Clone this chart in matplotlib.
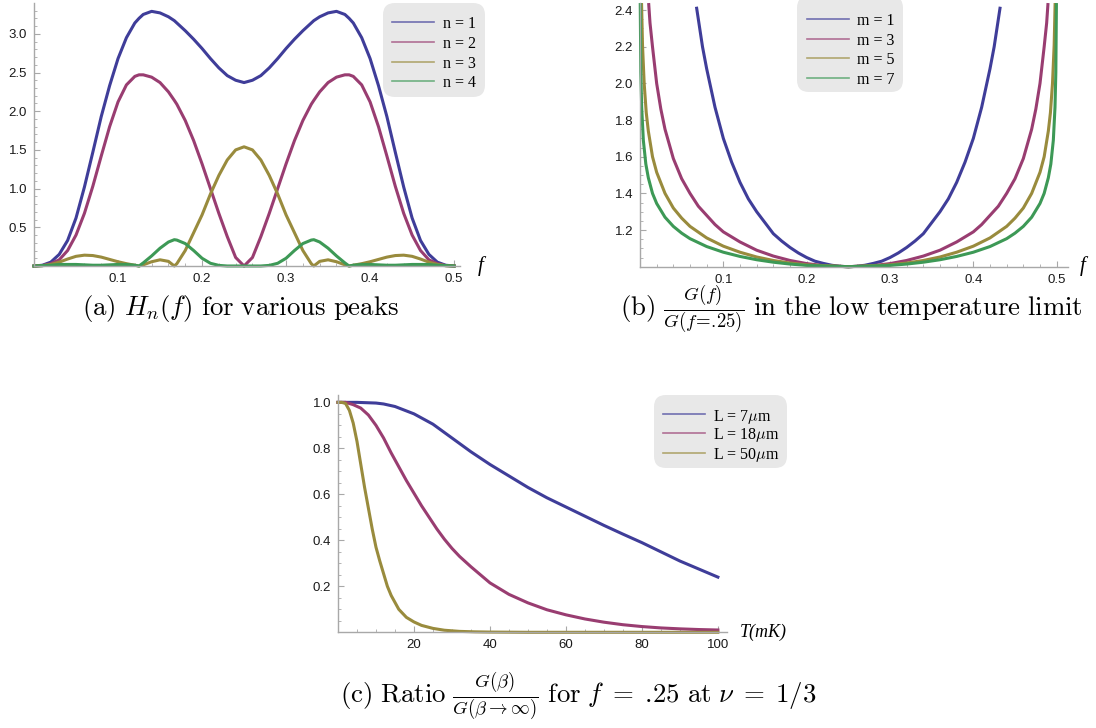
import matplotlib
matplotlib.use('Agg')
import matplotlib.pyplot as plt
from matplotlib.patches import FancyBboxPatch
from matplotlib.lines import Line2D
from matplotlib.transforms import IdentityTransform
from matplotlib.ticker import FixedLocator, MultipleLocator

plt.rcParams['font.family'] = ['Liberation Sans', 'DejaVu Sans']
plt.rcParams['mathtext.fontset'] = 'cm'

W, H = 1096, 728

# colours of the four series (Mathematica defaults)
colors = ['#3f3d99', '#993d71', '#998b3d', '#3d9956']
AXIS_GRAY = '#a8a8a8'

# ---- panel (a): H_n(f) ----
a_f = [0, .01, .02, .03, .04, .05, .06, .07, .08, .09, .10, .11, .12, .125, .13, .14,
       .15, .16, .167, .17, .18, .19, .20, .21, .22, .23, .24, .25, .26, .27, .28, .29,
       .30, .31, .32, .33, .333, .34, .35, .36, .37, .375, .38, .39, .40, .41, .42, .43,
       .44, .45, .46, .47, .48, .49, .50]
a_n1 = [0, .01, .05, .15, .33, .62, 1.02, 1.47, 1.93, 2.33, 2.68, 2.95, 3.14, 3.2, 3.25, 3.29,
        3.27, 3.22, 3.17, 3.14, 3.04, 2.93, 2.81, 2.68, 2.56, 2.46, 2.4, 2.37, 2.4, 2.46, 2.56, 2.68,
        2.81, 2.93, 3.04, 3.14, 3.17, 3.22, 3.27, 3.29, 3.25, 3.2, 3.14, 2.95, 2.68, 2.33, 1.93, 1.47,
        1.02, .62, .33, .15, .05, .01, 0]
a_n2 = [0, .005, .03, .08, .2, .4, .68, 1.03, 1.42, 1.8, 2.12, 2.34, 2.45, 2.47, 2.47, 2.44,
        2.37, 2.25, 2.14, 2.09, 1.88, 1.62, 1.32, 1.0, .68, .38, .11, 0, .11, .38, .68, 1.0,
        1.32, 1.62, 1.88, 2.09, 2.14, 2.25, 2.37, 2.44, 2.47, 2.47, 2.45, 2.34, 2.12, 1.8, 1.42, 1.03,
        .68, .4, .2, .08, .03, .005, 0]
a_n3 = [0, .005, .02, .05, .09, .125, .14, .135, .115, .085, .055, .03, .01, 0, .015, .055,
        .08, .06, 0, .03, .2, .43, .66, .93, 1.17, 1.37, 1.5, 1.54, 1.5, 1.37, 1.17, .93,
        .66, .43, .2, .03, 0, .06, .08, .055, .015, 0, .01, .03, .055, .085, .115, .135,
        .14, .125, .09, .05, .02, .005, 0]
a_n4 = [0, .005, .01, .02, .02, .02, .015, .01, .01, .015, .02, .02, .01, 0, .04, .13,
        .23, .31, .34, .335, .29, .2, .1, .035, .008, 0, 0, 0, 0, 0, .008, .035,
        .1, .2, .29, .335, .34, .31, .23, .13, .04, 0, .01, .02, .02, .015, .01, .01,
        .015, .02, .02, .02, .01, .005, 0]
a_labels = ['n = 1', 'n = 2', 'n = 3', 'n = 4']
a_xticks = [0.1, 0.2, 0.3, 0.4, 0.5]
a_xticklabels = ['0.1', '0.2', '0.3', '0.4', '0.5']
a_yticks = [0.5, 1.0, 1.5, 2.0, 2.5, 3.0]
a_yticklabels = ['0.5', '1.0', '1.5', '2.0', '2.5', '3.0']

# ---- panel (b): G(f)/G(f=.25), low temperature ----
b_f1 = [0.068, 0.07, 0.075, 0.08, 0.09, 0.10, 0.11, 0.12, 0.13, 0.14, 0.15, 0.16, 0.17, 0.18,
        0.19, 0.20, 0.21, 0.22, 0.23, 0.24, 0.25, 0.26, 0.27, 0.28, 0.29, 0.30, 0.31, 0.32,
        0.33, 0.34, 0.35, 0.36, 0.37, 0.38, 0.39, 0.40, 0.41, 0.42, 0.425, 0.43, 0.432]
b_m1 = [2.41, 2.35, 2.2, 2.08, 1.87, 1.7, 1.57, 1.46, 1.37, 1.3, 1.24, 1.18, 1.14, 1.105,
        1.075, 1.05, 1.03, 1.018, 1.008, 1.002, 1.0, 1.002, 1.008, 1.018, 1.03, 1.05, 1.075, 1.105,
        1.14, 1.18, 1.24, 1.3, 1.37, 1.46, 1.57, 1.7, 1.87, 2.08, 2.2, 2.35, 2.41]
b_f3 = [0.0105, 0.012, 0.015, 0.02, 0.025, 0.03, 0.04, 0.05, 0.06, 0.07, 0.08, 0.09, 0.10,
        0.12, 0.14, 0.16, 0.18, 0.20, 0.22, 0.25, 0.28, 0.30, 0.32, 0.34, 0.36, 0.38,
        0.40, 0.41, 0.42, 0.43, 0.44, 0.45, 0.46, 0.47, 0.475, 0.48, 0.485, 0.488, 0.4895]
b_m3 = [2.43, 2.33, 2.2, 2.0, 1.86, 1.75, 1.59, 1.48, 1.4, 1.33, 1.28, 1.23, 1.19,
        1.135, 1.09, 1.058, 1.034, 1.017, 1.006, 1.0, 1.006, 1.017, 1.034, 1.058, 1.09, 1.135,
        1.19, 1.23, 1.28, 1.33, 1.4, 1.48, 1.59, 1.75, 1.86, 2.0, 2.2, 2.33, 2.43]
b_f5 = [0.0019, 0.003, 0.005, 0.0075, 0.01, 0.015, 0.02, 0.03, 0.04, 0.05, 0.06, 0.08, 0.10,
        0.12, 0.14, 0.16, 0.18, 0.20, 0.25, 0.30, 0.32, 0.34, 0.36, 0.38, 0.40, 0.42, 0.44,
        0.45, 0.46, 0.47, 0.48, 0.485, 0.49, 0.4925, 0.495, 0.497, 0.4981]
b_m5 = [2.43, 2.21, 2.0, 1.84, 1.74, 1.6, 1.515, 1.4, 1.32, 1.265, 1.22, 1.157, 1.112,
        1.079, 1.053, 1.034, 1.02, 1.01, 1.0, 1.01, 1.02, 1.034, 1.053, 1.079, 1.112, 1.157, 1.22,
        1.265, 1.32, 1.4, 1.515, 1.6, 1.74, 1.84, 2.0, 2.21, 2.43]
b_f7 = [0.0003, 0.001, 0.002, 0.004, 0.007, 0.01, 0.015, 0.02, 0.03, 0.04, 0.05, 0.06, 0.08,
        0.10, 0.12, 0.14, 0.16, 0.18, 0.20, 0.25, 0.30, 0.32, 0.34, 0.36, 0.38, 0.40, 0.42,
        0.44, 0.45, 0.46, 0.47, 0.48, 0.485, 0.49, 0.493, 0.496, 0.498, 0.499, 0.4997]
b_m7 = [2.43, 2.06, 1.87, 1.69, 1.56, 1.485, 1.4, 1.345, 1.27, 1.22, 1.183, 1.153, 1.11,
        1.079, 1.056, 1.038, 1.0245, 1.0144, 1.007, 1.0, 1.007, 1.0144, 1.0245, 1.038, 1.056, 1.079, 1.11,
        1.153, 1.183, 1.22, 1.27, 1.345, 1.4, 1.485, 1.56, 1.69, 1.87, 2.06, 2.43]
b_labels = ['m = 1', 'm = 3', 'm = 5', 'm = 7']
b_xticks = [0.1, 0.2, 0.3, 0.4, 0.5]
b_xticklabels = ['0.1', '0.2', '0.3', '0.4', '0.5']
b_yticks = [1.2, 1.4, 1.6, 1.8, 2.0, 2.2, 2.4]
b_yticklabels = ['1.2', '1.4', '1.6', '1.8', '2.0', '2.2', '2.4']

# ---- panel (c): ratio vs temperature ----
c_T7 = [0, 5, 10, 12, 15, 20, 25, 30, 35, 40, 45, 50, 55, 60, 65, 70, 75, 80, 85, 90, 95, 100]
c_L7 = [1.0, 1.0, 0.997, 0.993, 0.982, 0.95, 0.905, 0.845, 0.785, 0.73, 0.68, 0.63, 0.585, 0.545,
        0.505, 0.465, 0.427, 0.39, 0.35, 0.31, 0.275, 0.24]
c_T18 = [0, 2, 4, 6, 8, 10, 12, 14, 16, 18, 20, 22, 24, 26, 28, 30, 32, 35, 40, 45, 50, 55,
         60, 65, 70, 75, 80, 85, 90, 95, 100]
c_L18 = [1.0, 1.0, 0.99, 0.975, 0.945, 0.9, 0.845, 0.78, 0.72, 0.66, 0.605, 0.55, 0.5, 0.45,
         0.405, 0.365, 0.33, 0.285, 0.215, 0.165, 0.128, 0.098, 0.076, 0.058, 0.044, 0.033,
         0.025, 0.019, 0.015, 0.012, 0.01]
c_T50 = [0, 1, 2, 3, 4, 5, 6, 7, 8, 9, 10, 11, 12, 13, 14, 15, 16, 18, 20, 22, 25, 28, 32,
         36, 40, 50, 60, 70, 80, 90, 100]
c_L50 = [1.0, 1.0, 0.995, 0.965, 0.91, 0.83, 0.73, 0.63, 0.54, 0.45, 0.37, 0.31, 0.255, 0.2,
         0.16, 0.13, 0.1, 0.065, 0.045, 0.03, 0.017, 0.009, 0.004, 0.002, 0.001, 0, 0, 0, 0, 0, 0]
c_labels = [r'L = 7$\mu$m', r'L = 18$\mu$m', r'L = 50$\mu$m']
c_xticks = [20, 40, 60, 80, 100]
c_xticklabels = ['20', '40', '60', '80', '100']
c_yticks = [0.2, 0.4, 0.6, 0.8, 1.0]
c_yticklabels = ['0.2', '0.4', '0.6', '0.8', '1.0']

fig = plt.figure(figsize=(W / 100, H / 100), dpi=100)


# axes placed by pixel box (left, top, right, bottom), image coordinates
def make_axes(l, t, r, b):
    ax = fig.add_axes([l / W, 1 - b / H, (r - l) / W, (b - t) / H])
    ax.patch.set_alpha(0)
    for s in ['top', 'right']:
        ax.spines[s].set_visible(False)
    for s in ['left', 'bottom']:
        ax.spines[s].set_color(AXIS_GRAY)
        ax.spines[s].set_linewidth(1.0)
    ax.tick_params(which='both', direction='in', color=AXIS_GRAY,
                   labelsize=9.5, labelcolor='#1a1a1a', pad=5)
    ax.tick_params(which='major', length=4, width=0.8)
    ax.tick_params(which='minor', length=2.2, width=0.6)
    return ax


def set_ticks(ax, xt, xl, xminor, yt, yl, yminor):
    ax.xaxis.set_major_locator(FixedLocator(xt))
    ax.set_xticklabels(xl)
    ax.xaxis.set_minor_locator(MultipleLocator(xminor))
    ax.yaxis.set_major_locator(FixedLocator(yt))
    ax.set_yticklabels(yl)
    ax.yaxis.set_minor_locator(MultipleLocator(yminor))


def draw_legend(box, rows, line_x, text_x, labels, cols):
    l, t, r, b = box
    patch = FancyBboxPatch((l, H - b), r - l, b - t,
                           boxstyle='round,pad=0,rounding_size=12',
                           transform=IdentityTransform(), fc='#e8e8e8', ec='none')
    fig.add_artist(patch)
    for y, lab, c in zip(rows, labels, cols):
        fig.add_artist(Line2D([line_x[0], line_x[1]], [H - y, H - y], color=c, lw=1.2,
                              alpha=0.7, transform=IdentityTransform()))
        fig.text(text_x / W, 1 - y / H, lab, family='Liberation Serif', size=11.5,
                 ha='left', va='center_baseline')


def axis_name(x, y, s, size):
    fig.text(x / W, 1 - y / H, s, family='Liberation Serif', style='italic',
             size=size, ha='center', va='center')


# (a)
ax_a = make_axes(34, 3, 460, 266)
for vals, c in zip([a_n1, a_n2, a_n3, a_n4], colors):
    ax_a.plot(a_f, vals, color=c, lw=2.2, clip_on=False, solid_joinstyle='round')
ax_a.set_xlim(0, 0.507)
ax_a.set_ylim(0, 3.398)
set_ticks(ax_a, a_xticks, a_xticklabels, 0.02, a_yticks, a_yticklabels, 0.1)
axis_name(481, 266, 'f', 15)
draw_legend((383, 3, 485, 97), [22, 42, 62, 81], (392, 434), 443, a_labels, colors)

# (b)
ax_b = make_axes(640, 3, 1068, 266.7)
for xs, vals, c in zip([b_f1, b_f3, b_f5, b_f7], [b_m1, b_m3, b_m5, b_m7], colors):
    ax_b.plot(xs, vals, color=c, lw=2.2, clip_on=False, solid_joinstyle='round')
ax_b.set_xlim(0, 0.5136)
ax_b.set_ylim(1.0, 2.4386)
set_ticks(ax_b, b_xticks, b_xticklabels, 0.02, b_yticks, b_yticklabels, 0.05)
axis_name(1083, 266, 'f', 15)
draw_legend((797, -4, 903, 92), [19, 39, 58, 78], (807, 849), 857, b_labels, colors)

# (c)
ax_c = make_axes(338, 395, 727, 632.3)
for xs, vals, c in zip([c_T7, c_T18, c_T50], [c_L7, c_L18, c_L50], colors[:3]):
    ax_c.plot(xs, vals, color=c, lw=2.2, clip_on=False, solid_joinstyle='round')
ax_c.set_xlim(0, 102.4)
ax_c.set_ylim(0, 1.032)
set_ticks(ax_c, c_xticks, c_xticklabels, 5, c_yticks, c_yticklabels, 0.05)
axis_name(763, 632, 'T(mK)', 13)
draw_legend((654, 395, 787, 468), [414, 433, 453], (663, 705), 713, c_labels, colors[:3])

# captions (Computer Modern via mathtext)
CAP = 19.3
fig.text(240 / W, 1 - 308 / H, r'$\mathrm{(a)}\ H_n(f)\ \mathrm{for\ various\ peaks}$',
         size=CAP, ha='center', va='center')
fig.text(851 / W, 1 - 310 / H,
         r'$\mathrm{(b)}\ \frac{G(f)}{G(f\!=\!.\!25)}\ \mathrm{in\ the\ low\ temperature\ limit}$',
         size=CAP, ha='center', va='center')
fig.text(578 / W, 1 - 697 / H,
         r'$\mathrm{(c)\ Ratio}\ \frac{G(\beta)}{G(\beta\rightarrow\infty)}\ \mathrm{for}\ f\;=\;.\!25\ \mathrm{at}\ \nu\;=\;1/3$',
         size=CAP, ha='center', va='center')

fig.savefig('out.png', dpi=100)
